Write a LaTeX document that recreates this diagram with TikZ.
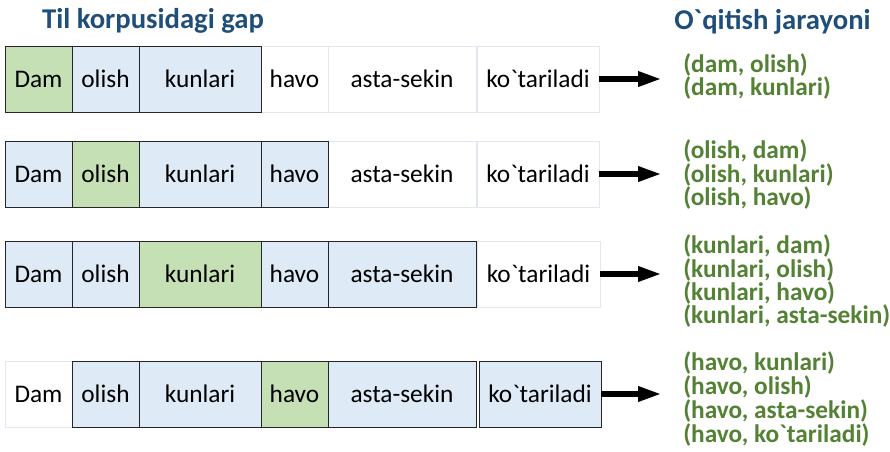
\documentclass[tikz,border=0pt]{standalone}
\usepackage{fontspec}
\setmainfont{Carlito}[Ligatures=TeXOff]
\usetikzlibrary{arrows.meta}
\definecolor{titleblue}{RGB}{31,78,121}
\definecolor{pairgreen}{RGB}{84,130,53}
\definecolor{hlgreen}{RGB}{197,224,180}
\definecolor{ctxblue}{RGB}{222,235,247}
\definecolor{faint}{RGB}{226,231,242}
\definecolor{edge}{RGB}{38,38,38}
\newcommand\mkcell[6]{\node[#5, minimum width={(#3-#2)*0.75pt}] (#1) at ({(#2+#3)/2},#4) {#6};}
\begin{document}
\begin{tikzpicture}[x=0.75pt,y=-0.75pt,
  cellbase/.style={inner sep=0pt, outer sep=0pt, minimum height=49.5pt, text height=12pt, text depth=0pt, font=\fontsize{19}{22}\selectfont, line width=0.75pt},
  plain/.style={cellbase, draw=faint, fill=white},
  ctx/.style={cellbase, draw=edge, fill=ctxblue},
  focus/.style={cellbase, draw=edge, fill=hlgreen},
  pair/.style={anchor=base west, inner sep=0pt, text=pairgreen, font=\fontsize{19}{22}\selectfont\bfseries},
  heading/.style={anchor=base, inner sep=0pt, text=titleblue, font=\fontsize{21.5}{26}\selectfont\bfseries},
  fat/.style={line width=4.5pt, -{Triangle[length=18pt,width=10.5pt]}}]
\useasboundingbox (0,0) rectangle (890,451);

\node[heading] (title1) at (153,28) {Til korpusidagi gap};
\node[heading] (title2) at (772.5,29) {O`qitish jarayoni};

% Row 1
\mkcell{a4}{261}{328}{79}{plain}{havo}
\mkcell{a5}{328}{476}{79}{plain}{asta-sekin}
\mkcell{a6}{477}{599}{79}{plain}{ko`tariladi}
\mkcell{a1}{5}{72}{79}{focus}{Dam}
\mkcell{a2}{72}{139}{79}{ctx}{olish}
\mkcell{a3}{139}{261}{79}{ctx}{kunlari}
% Row 2
\mkcell{b5}{328}{476}{174}{plain}{asta-sekin}
\mkcell{b6}{477}{599}{174}{plain}{ko`tariladi}
\mkcell{b1}{5}{72}{174}{ctx}{Dam}
\mkcell{b2}{72}{139}{174}{focus}{olish}
\mkcell{b3}{139}{261}{174}{ctx}{kunlari}
\mkcell{b4}{261}{328}{174}{ctx}{havo}
% Row 3
\mkcell{c6}{477}{600}{274}{plain}{ko`tariladi}
\mkcell{c1}{5}{72}{274}{ctx}{Dam}
\mkcell{c2}{72}{139}{274}{ctx}{olish}
\mkcell{c3}{139}{261}{274}{focus}{kunlari}
\mkcell{c4}{261}{328}{274}{ctx}{havo}
\mkcell{c5}{328}{476}{274}{ctx}{asta-sekin}
% Row 4
\mkcell{d1}{5}{72}{394}{plain}{Dam}
\mkcell{d2}{72}{139}{394}{ctx}{olish}
\mkcell{d3}{139}{261}{394}{ctx}{kunlari}
\mkcell{d4}{261}{328}{394}{focus}{havo}
\mkcell{d5}{328}{476}{394}{ctx}{asta-sekin}
\mkcell{d6}{479}{601}{394}{ctx}{ko`tariladi}

% Arrows
\coordinate (t1) at (662,79);
\coordinate (t2) at (662,174);
\coordinate (t3) at (662,274);
\coordinate (t4) at (662,394);
\draw[fat] (a6.east) -- (t1);
\draw[fat] (b6.east) -- (t2);
\draw[fat] (c6.east) -- (t3);
\draw[fat] (d6.east) -- (t4);

% Pairs
\node[pair] (p11) at (683,72) {(dam, olish)};
\node[pair] (p12) at (683,95) {(dam, kunlari)};
\node[pair] (p21) at (683,158) {(olish, dam)};
\node[pair] (p22) at (683,182) {(olish, kunlari)};
\node[pair] (p23) at (683,205) {(olish, havo)};
\node[pair] (p31) at (683,253) {(kunlari, dam)};
\node[pair] (p32) at (683,277) {(kunlari, olish)};
\node[pair] (p33) at (683,300) {(kunlari, havo)};
\node[pair] (p34) at (683,323) {(kunlari, asta-sekin)};
\node[pair] (p41) at (683,370) {(havo, kunlari)};
\node[pair] (p42) at (683,394) {(havo, olish)};
\node[pair] (p43) at (683,418) {(havo, asta-sekin)};
\node[pair] (p44) at (683,442) {(havo, ko`tariladi)};
\end{tikzpicture}
\end{document}
